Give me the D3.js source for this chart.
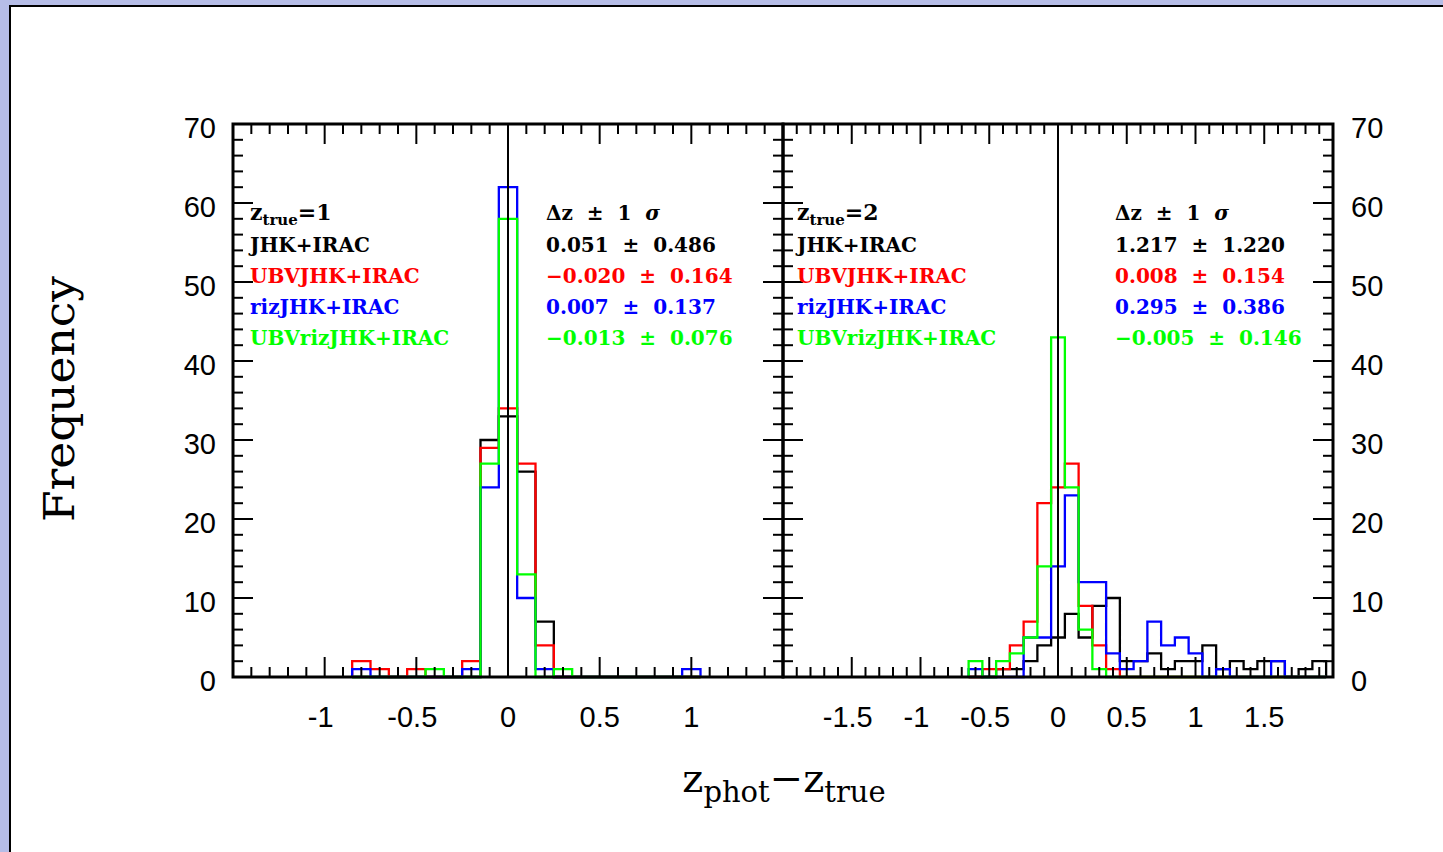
<!DOCTYPE html>
<html>
<head>
<meta charset="utf-8">
<script src="https://cdn.jsdelivr.net/npm/d3@7"></script>
<style>
  html, body { margin: 0; padding: 0; background: #b6bde7; }
  svg { display: block; }
</style>
</head>
<body>
<div id="chart"></div>
<script>
// Bin centres (bin width 0.1) and counts.
const leftBins = [-0.8, -0.7, -0.6, -0.5, -0.4, -0.3, -0.2, -0.1, 0, 0.1, 0.2, 0.3, 0.4, 0.5, 0.6, 0.7, 0.8, 0.9, 1.0];
const leftBlack = [0, 0, 0, 0, 0, 0, 0, 30, 33, 26, 7, 0, 0, 0, 0, 0, 0, 0, 0];
const leftRed   = [2, 1, 0, 1, 0, 0, 2, 29, 34, 27, 4, 0, 0, 0, 0, 0, 0, 0, 0];
const leftBlue  = [1, 0, 0, 0, 0, 0, 1, 24, 62, 10, 1, 0, 0, 0, 0, 0, 0, 0, 1];
const leftGreen = [0, 0, 0, 0, 1, 0, 0, 27, 58, 13, 0, 1, 0, 0, 0, 0, 0, 0, 0];

const rightBins = [-0.6, -0.5, -0.4, -0.3, -0.2, -0.1, 0, 0.1, 0.2, 0.3, 0.4, 0.5, 0.6, 0.7, 0.8, 0.9, 1.0, 1.1, 1.2, 1.3, 1.4, 1.5, 1.6, 1.7, 1.8, 1.9];
const rightBlack = [0, 0, 1, 1, 2, 4, 5, 8, 5, 9, 10, 2, 2, 3, 1, 2, 2, 4, 1, 2, 1, 2, 2, 0, 1, 2];
const rightRed   = [0, 1, 1, 4, 7, 22, 24, 27, 9, 4, 1, 0, 0, 0, 0, 0, 0, 0, 0, 0, 0, 0, 0, 0, 0, 0];
const rightBlue  = [1, 0, 0, 0, 5, 5, 14, 23, 12, 12, 3, 1, 2, 7, 4, 5, 3, 0, 1, 0, 0, 0, 2, 0, 0, 0];
const rightGreen = [2, 0, 2, 3, 5, 14, 43, 24, 6, 1, 0, 0, 0, 0, 0, 0, 0, 0, 0, 0, 0, 0, 0, 0, 0, 0];

const filterNames = ["JHK+IRAC", "UBVJHK+IRAC", "rizJHK+IRAC", "UBVrizJHK+IRAC"];
const colors = ["#000000", "#ff0000", "#0000ff", "#00ff00"];
const leftStats = ["0.051 \u00b1 0.486", "\u22120.020 \u00b1 0.164", "0.007 \u00b1 0.137", "\u22120.013 \u00b1 0.076"];
const rightStats = ["1.217 \u00b1 1.220", "0.008 \u00b1 0.154", "0.295 \u00b1 0.386", "\u22120.005 \u00b1 0.146"];

const yTickLabels = [0, 10, 20, 30, 40, 50, 60, 70];
const leftTickLabels = [-1, -0.5, 0, 0.5, 1];
const rightTickLabels = [-1.5, -1, -0.5, 0, 0.5, 1, 1.5];

const width = 1443, height = 852;
const binWidth = 0.1;

const svg = d3.select("#chart").append("svg")
  .attr("width", width)
  .attr("height", height);

// white page with a black border
svg.append("rect")
  .attr("x", 10).attr("y", 6)
  .attr("width", width + 20).attr("height", height + 20)
  .attr("fill", "#fff")
  .attr("stroke", "#000")
  .attr("stroke-width", 2);

const y = d3.scaleLinear().domain([0, 70]).range([677, 124]);

const panels = [
  { x: d3.scaleLinear().domain([-1.5, 1.5]).range([233, 783]), bins: leftBins,
    series: [leftBlack, leftRed, leftBlue, leftGreen], stats: leftStats,
    ticks: leftTickLabels, ztrue: "1", labelX: 250, statX: 546 },
  { x: d3.scaleLinear().domain([-2, 2]).range([783, 1333]), bins: rightBins,
    series: [rightBlack, rightRed, rightBlue, rightGreen], stats: rightStats,
    ticks: rightTickLabels, ztrue: "2", labelX: 797, statX: 1115 }
];

function histPath(x, bins, counts) {
  const p = d3.path();
  p.moveTo(x(bins[0] - binWidth / 2), y(0));
  bins.forEach((c, i) => {
    p.lineTo(x(c - binWidth / 2), y(counts[i]));
    p.lineTo(x(c + binWidth / 2), y(counts[i]));
  });
  p.lineTo(x(bins[bins.length - 1] + binWidth / 2), y(0));
  return p.toString();
}

const labelFont = "'DejaVu Serif', serif";
const tickFont = "'Liberation Sans', Arial, sans-serif";

panels.forEach((pn, pi) => {
  const x = pn.x;
  const g = svg.append("g");

  // histograms
  g.selectAll("path.hist")
    .data(pn.series)
    .join("path")
      .attr("class", "hist")
      .attr("d", d => histPath(x, pn.bins, d))
      .attr("fill", "none")
      .attr("stroke", (d, i) => colors[i])
      .attr("stroke-width", 2.3);

  // zero line
  g.append("line")
    .attr("x1", x(0)).attr("x2", x(0))
    .attr("y1", y(0)).attr("y2", y(70))
    .attr("stroke", "#000").attr("stroke-width", 2);

  const [x0, x1] = x.range();

  // x ticks (minor every 0.1, major every 0.5)
  const xt = d3.range(Math.round(x.domain()[0] * 10) + 1, Math.round(x.domain()[1] * 10)).map(v => v / 10);
  xt.forEach(v => {
    const major = Math.abs(v * 2 - Math.round(v * 2)) < 1e-6;
    const len = major ? 20 : 10;
    g.append("line").attr("x1", x(v)).attr("x2", x(v)).attr("y1", y(0)).attr("y2", y(0) - len)
      .attr("stroke", "#000").attr("stroke-width", 2);
    g.append("line").attr("x1", x(v)).attr("x2", x(v)).attr("y1", y(70)).attr("y2", y(70) + len)
      .attr("stroke", "#000").attr("stroke-width", 2);
  });

  // y ticks (minor every 2, major every 10)
  d3.range(2, 70, 2).forEach(v => {
    const len = v % 10 === 0 ? 20 : 10;
    g.append("line").attr("x1", x0).attr("x2", x0 + len).attr("y1", y(v)).attr("y2", y(v))
      .attr("stroke", "#000").attr("stroke-width", 2);
    g.append("line").attr("x1", x1).attr("x2", x1 - len).attr("y1", y(v)).attr("y2", y(v))
      .attr("stroke", "#000").attr("stroke-width", 2);
  });

  // frame
  g.append("rect")
    .attr("x", x0).attr("y", y(70))
    .attr("width", x1 - x0).attr("height", y(0) - y(70))
    .attr("fill", "none").attr("stroke", "#000").attr("stroke-width", 3);

  // x tick labels
  g.selectAll("text.xt")
    .data(pn.ticks)
    .join("text")
      .attr("class", "xt")
      .attr("x", d => x(d) - (d < 0 ? 4 : 0))
      .attr("y", 727)
      .attr("text-anchor", "middle")
      .style("font", `29px ${tickFont}`)
      .text(d => d);

  // legend
  const lg = g.append("g").style("font-family", labelFont).style("font-weight", "bold");
  const zt = lg.append("text").attr("x", pn.labelX).attr("y", 220).attr("font-size", 22);
  zt.append("tspan").text("z");
  zt.append("tspan").attr("font-size", 15).attr("dy", 5).text("true");
  zt.append("tspan").attr("dy", -5).text("=" + pn.ztrue);

  lg.selectAll("text.name")
    .data(filterNames)
    .join("text")
      .attr("class", "name")
      .attr("x", pn.labelX)
      .attr("y", (d, i) => 252 + i * 31)
      .attr("font-size", 20)
      .attr("fill", (d, i) => colors[i])
      .text(d => d);

  const hd = lg.append("text").attr("x", pn.statX).attr("y", 220).attr("font-size", 20)
    .attr("xml:space", "preserve");
  hd.text("\u0394z  \u00b1  1  ");
  hd.append("tspan").attr("font-style", "italic").text("\u03c3");

  lg.selectAll("text.stat")
    .data(pn.stats)
    .join("text")
      .attr("class", "stat")
      .attr("x", pn.statX)
      .attr("y", (d, i) => 252 + i * 31)
      .attr("font-size", 20)
      .attr("xml:space", "preserve")
      .attr("fill", (d, i) => colors[i])
      .text(d => d.replace(" \u00b1 ", "  \u00b1  "));
});

// y tick labels on both outer sides
svg.append("g").selectAll("text")
  .data(yTickLabels)
  .join("text")
    .attr("x", 216)
    .attr("y", d => y(d) + 14)
    .attr("text-anchor", "end")
    .style("font", `29px ${tickFont}`)
    .text(d => d);

svg.append("g").selectAll("text")
  .data(yTickLabels)
  .join("text")
    .attr("x", 1351)
    .attr("y", d => y(d) + 14)
    .style("font", `29px ${tickFont}`)
    .text(d => d);

// axis titles
svg.append("text")
  .attr("transform", "translate(74,399) rotate(-90)")
  .attr("text-anchor", "middle")
  .attr("textLength", 246)
  .attr("lengthAdjust", "spacingAndGlyphs")
  .style("font", `42px ${labelFont}`)
  .text("Frequency");

const xt = svg.append("text")
  .attr("x", 784).attr("y", 792)
  .attr("text-anchor", "middle")
  .style("font-family", labelFont)
  .attr("font-size", 40);
xt.append("tspan").text("z");
xt.append("tspan").attr("font-size", 29).attr("dy", 10).text("phot");
xt.append("tspan").attr("dy", -10).text("\u2212z");
xt.append("tspan").attr("font-size", 29).attr("dy", 10).text("true");
</script>
</body>
</html>
